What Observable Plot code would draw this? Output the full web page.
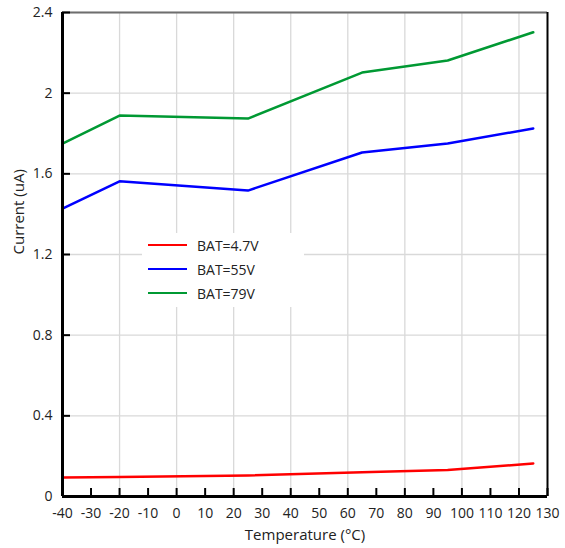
<!DOCTYPE html>
<html>
<head>
<meta charset="utf-8">
<script src="https://cdn.jsdelivr.net/npm/d3@7"></script>
<script src="https://cdn.jsdelivr.net/npm/@observablehq/plot@0.6"></script>
<style>
  html, body { margin: 0; padding: 0; background: #fff; }
  #wrap { position: relative; width: 565px; height: 548px; font-family: "Open Sans", sans-serif; }
  #legend { position: absolute; left: 142px; top: 233px; width: 162px; height: 74px; background: #fff; font-size: 14px; color: #222; }
  .row { position: absolute; left: 6px; height: 20px; display: flex; align-items: center; }
  .sw { width: 39px; height: 0; border-top: 2.5px solid; margin-right: 10px; }
</style>
</head>
<body>
<div id="wrap"><div id="legend"></div></div>
<script>
const temps = [-40, -20, 25, 65, 95, 125];
const bat47 = [0.094, 0.097, 0.104, 0.12, 0.131, 0.164];
const bat55 = [1.428, 1.563, 1.517, 1.706, 1.75, 1.825];
const bat79 = [1.75, 1.889, 1.874, 2.102, 2.162, 2.302];
const seriesNames = ["BAT=4.7V", "BAT=55V", "BAT=79V"];
const seriesColors = ["#ff0000", "#0000ff", "#009933"];
const xTicks = d3.range(-40, 131, 10);
const yTicks = [0, 0.4, 0.8, 1.2, 1.6, 2, 2.4];
const xGrid = [-20, 0, 20, 40, 60, 80, 100, 120];
const yGrid = [0.4, 0.8, 1.2, 1.6, 2, 2.4];

const allSeries = [bat47, bat55, bat79];
const rows = [];
allSeries.forEach((vals, i) => vals.forEach((v, j) => rows.push({t: temps[j], v, s: seriesNames[i]})));

const W = 565, H = 548, mL = 62, mR = 18, mT = 12, mB = 52;
const innerH = H - mT - mB, innerW = W - mL - mR;

const chart = Plot.plot({
  width: W, height: H,
  marginLeft: mL, marginRight: mR, marginTop: mT, marginBottom: mB,
  style: {fontFamily: "Open Sans, sans-serif", fontSize: "14px", color: "#222", background: "white"},
  x: {domain: [-40, 130]},
  y: {domain: [0, 2.4]},
  color: {domain: seriesNames, range: seriesColors},
  marks: [
    Plot.ruleX(xGrid, {stroke: "#d9d9d9", strokeWidth: 1.3}),
    Plot.ruleY(yGrid, {stroke: "#d9d9d9", strokeWidth: 1.3}),
    Plot.ruleY([2.4], {stroke: "#6e6e6e", strokeWidth: 2}),
    Plot.ruleX([130], {stroke: "#000", strokeWidth: 2}),
    Plot.line(rows, {x: "t", y: "v", z: "s", stroke: "s", strokeWidth: 2.5}),
    Plot.ruleX(xTicks, {stroke: "#000", strokeWidth: 2, insetTop: innerH - 8}),
    Plot.ruleY(yTicks, {stroke: "#000", strokeWidth: 2, insetRight: innerW - 8}),
    Plot.ruleX([-40], {stroke: "#000", strokeWidth: 3}),
    Plot.ruleY([0], {stroke: "#000", strokeWidth: 3}),
    Plot.axisX(xTicks, {tickSize: 0, tickPadding: 12, fontSize: 14, label: null, tickFormat: d => String(d)}),
    Plot.axisY(yTicks, {tickSize: 0, tickPadding: 10, fontSize: 14, label: null, tickFormat: d => String(d)}),
    Plot.text(["Temperature (°C)"], {frameAnchor: "bottom", dy: 43, fontSize: 15, fill: "#222"}),
    Plot.text(["Current (uA)"], {frameAnchor: "left", dx: -43, rotate: -90, fontSize: 15, fill: "#222"})
  ]
});
document.getElementById("wrap").prepend(chart);

const legend = document.getElementById("legend");
seriesNames.forEach((name, i) => {
  const r = document.createElement("div");
  r.className = "row";
  r.style.top = (2 + i * 24) + "px";
  r.innerHTML = `<span class="sw" style="border-color:${seriesColors[i]}"></span><span>${name}</span>`;
  legend.appendChild(r);
});
</script>
</body>
</html>
